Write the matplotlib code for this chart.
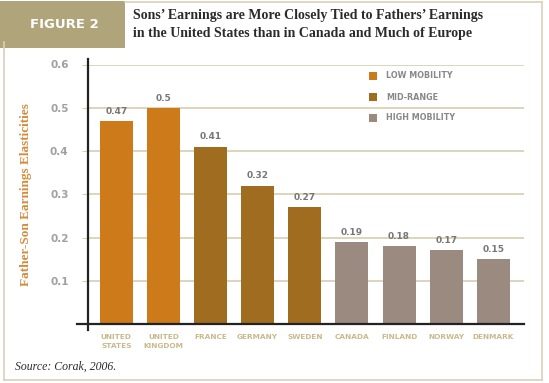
import numpy as np
import matplotlib.pyplot as plt
from matplotlib.patches import Rectangle
from matplotlib.lines import Line2D

# data
countries = ["UNITED\nSTATES", "UNITED\nKINGDOM", "FRANCE", "GERMANY", "SWEDEN",
             "CANADA", "FINLAND", "NORWAY", "DENMARK"]
elasticity = [0.47, 0.5, 0.41, 0.32, 0.27, 0.19, 0.18, 0.17, 0.15]
value_labels = ["0.47", "0.5", "0.41", "0.32", "0.27", "0.19", "0.18", "0.17", "0.15"]
groups = ["low", "low", "mid", "mid", "mid", "high", "high", "high", "high"]
yticks = [0.1, 0.2, 0.3, 0.4, 0.5, 0.6]

colors = {"low": "#cd7a1a", "mid": "#a06c20", "high": "#9a8a80"}
legend_names = {"low": "LOW MOBILITY", "mid": "MID-RANGE", "high": "HIGH MOBILITY"}

plt.rcParams["font.family"] = "DejaVu Sans"

W, H = 549, 383
fig = plt.figure(figsize=(W / 100, H / 100), dpi=100)

# outer frame
border = "#d9d1bb"
fig.add_artist(Line2D([4 / W, 4 / W], [3 / H, 1 - 42 / H], color=border, lw=1.2))
fig.add_artist(Line2D([4 / W, 542 / W], [3 / H, 3 / H], color=border, lw=1.2))
fig.add_artist(Line2D([542 / W, 542 / W], [3 / H, 1 - 2 / H], color=border, lw=1.2))
fig.add_artist(Line2D([125 / W, 542 / W], [1 - 2 / H, 1 - 2 / H], color=border, lw=1.2))

# header box
fig.add_artist(Rectangle((0, 1 - 48 / H), 125 / W, 47 / H, transform=fig.transFigure,
                         facecolor="#b0a57a", edgecolor="none"))
fig.text(64 / W, 1 - 24 / H, "FIGURE 2", color="white", fontsize=9.5,
         fontweight="bold", ha="center", va="center")
fig.text(133 / W, 1 - 16 / H, "Sons\u2019 Earnings are More Closely Tied to Fathers\u2019 Earnings",
         fontsize=10, fontweight="bold", family="Liberation Serif", color="#2b2b2b",
         ha="left", va="center")
fig.text(133 / W, 1 - 34 / H, "in the United States than in Canada and Much of Europe",
         fontsize=10, fontweight="bold", family="Liberation Serif", color="#2b2b2b",
         ha="left", va="center")

ax = fig.add_axes([88 / W, 59 / H, 436 / W, 259.5 / H])
x = np.arange(len(countries))
ax.bar(x, elasticity, width=0.7, color=[colors[g] for g in groups], zorder=3)
for xi, v, lab in zip(x, elasticity, value_labels):
    ax.text(xi, v + 0.012, lab, ha="center", va="bottom", fontsize=6.5,
            fontweight="bold", color="#777777", zorder=4)

ax.set_xlim(-0.6, 8.65)
ax.set_ylim(0, 0.6)
ax.set_yticks(yticks)
ax.set_yticklabels([f"{t:.1f}" for t in yticks], color="#a0a0a0", fontsize=7.5,
                   fontweight="bold")
ax.tick_params(axis="y", length=4, color="#d6ceb0", pad=10)
ax.set_xticks(x)
ax.set_xticklabels(countries, fontsize=5.3, fontweight="bold", color="#c9b98c",
                   linespacing=1.7)
ax.tick_params(axis="x", length=0, pad=7)
ax.grid(axis="y", color="#d6ceb0", lw=1.2, zorder=0)
for s in ax.spines.values():
    s.set_visible(False)

# axis lines extending past each other
ax.plot([-0.6, -0.6], [-0.015, 0.612], color="#222222", lw=1.6, clip_on=False, zorder=5)
ax.plot([-0.83, 8.65], [0, 0], color="#222222", lw=1.6, clip_on=False, zorder=5)

ax.set_ylabel("Father-Son Earnings Elasticities", family="Liberation Serif",
              fontweight="bold", fontsize=9.5, color="#d38b3c", labelpad=13)

# legend
for i, g in enumerate(["low", "mid", "high"]):
    yy = 1 - (76 + 21 * i) / H
    fig.add_artist(Rectangle((369 / W, yy - 4 / H), 8 / W, 8 / H,
                             transform=fig.transFigure, facecolor=colors[g],
                             edgecolor="none"))
    fig.text(386 / W, yy, legend_names[g], fontsize=5.8, fontweight="bold",
             color="#888888", va="center", ha="left")

fig.text(15 / W, 1 - 367 / H, "Source: Corak, 2006.", family="Liberation Serif",
         style="italic", fontsize=8.5, color="#2b2b2b", va="center")

fig.savefig("out.png", dpi=100)
